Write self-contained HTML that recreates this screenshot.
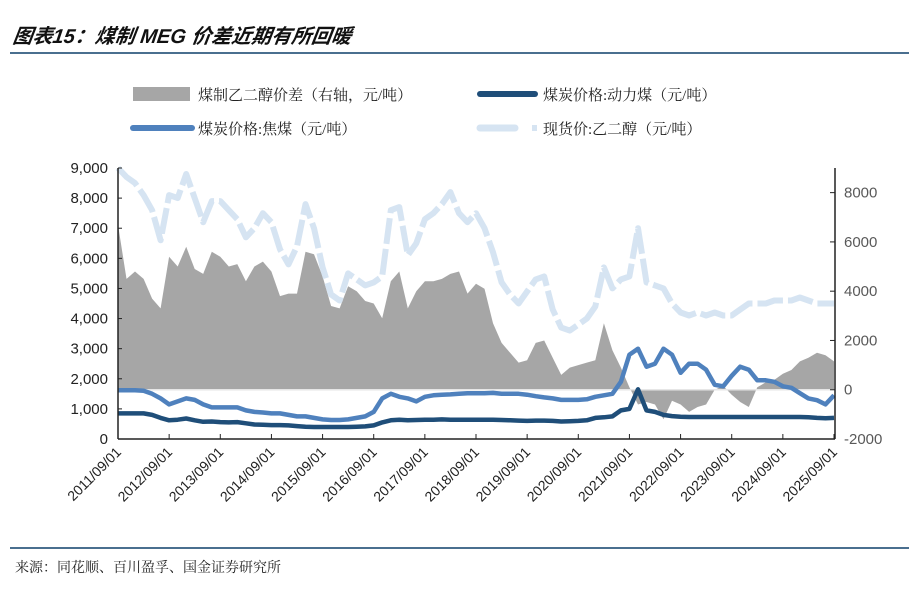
<!DOCTYPE html>
<html><head><meta charset="utf-8">
<style>
html,body{margin:0;padding:0;background:#fff;}
body{width:909px;height:589px;overflow:hidden;font-family:"Liberation Sans","Noto Sans CJK SC",sans-serif;}
</style></head>
<body>
<svg id="chart" width="909" height="589" viewBox="0 0 909 589" xmlns="http://www.w3.org/2000/svg">
<text x="12" y="43" font-family="'Liberation Sans','Noto Sans CJK SC',sans-serif" font-size="20" font-weight="bold" font-style="italic" fill="#111" transform="skewX(-8) translate(6,0)">图表15：煤制 MEG 价差近期有所回暖</text>
<line x1="10" y1="53" x2="909" y2="53" stroke="#4a6f8f" stroke-width="2"/>
<g font-family="'Liberation Serif','Noto Serif CJK SC',serif" font-size="15" fill="#222">
<g><rect x="133" y="87" width="57" height="14" fill="#a6a6a6"/><text x="198" y="100">煤制乙二醇价差（右轴，元/吨）</text></g>
<g><line x1="480" y1="94" x2="535" y2="94" stroke="#1f4e79" stroke-width="6" stroke-linecap="round"/><text x="543" y="100">煤炭价格:动力煤（元/吨）</text></g>
<g><line x1="133" y1="128" x2="192" y2="128" stroke="#4f81bd" stroke-width="6" stroke-linecap="round"/><text x="198" y="134">煤炭价格:焦煤（元/吨）</text></g>
<g><line x1="480" y1="128" x2="515" y2="128" stroke="#d6e4f2" stroke-width="7" stroke-linecap="round"/><rect x="532" y="125" width="5" height="6" fill="#d6e4f2"/><text x="543" y="134">现货价:乙二醇（元/吨）</text></g>
</g>
<g id="plot"></g>
<line x1="10" y1="548" x2="909" y2="548" stroke="#4a6f8f" stroke-width="2"/>
<text x="15" y="572" font-family="'Liberation Serif','Noto Serif CJK SC',serif" font-size="14" fill="#222">来源：同花顺、百川盈孚、国金证券研究所</text>
</svg>
<script>
// bi-monthly samples from 2011/09 to 2025/09
const spread = [6700,4500,4800,4500,3700,3300,5400,5000,5800,4900,4700,5600,5400,5000,5100,4400,5000,5200,4800,3800,3900,3900,5600,5500,4600,3400,3300,4200,4000,3600,3500,2900,4400,4800,3300,4000,4400,4400,4500,4700,4800,3900,4300,4100,2700,1900,1500,1100,1200,1900,2000,1300,600,900,1000,1100,1200,2700,1600,900,100,-600,-500,-600,-1200,-450,-600,-900,-700,-600,0,150,-200,-500,-700,100,300,400,650,800,1150,1300,1500,1400,1150];
const megSpot = [9000,8700,8500,8100,7600,6600,8100,8000,8800,8000,7200,7900,7900,7600,7300,6700,7000,7500,7200,6300,5800,6400,7800,7000,5700,4800,4600,5500,5300,5100,5200,5400,7600,7700,6100,6500,7300,7500,7800,8200,7500,7200,7500,7000,6200,5200,4800,4500,4900,5300,5400,4300,3700,3600,3800,4000,4400,5700,5000,5300,5400,7000,5200,5100,5000,4500,4200,4100,4200,4100,4200,4100,4100,4300,4500,4500,4500,4600,4600,4600,4700,4600,4500,4500,4500];
const cokingCoal = [1620,1620,1620,1600,1500,1350,1150,1250,1350,1300,1150,1050,1050,1050,1050,950,900,880,850,850,800,750,750,700,650,630,630,650,700,750,900,1350,1500,1400,1350,1250,1400,1450,1470,1480,1500,1520,1520,1520,1530,1500,1500,1500,1470,1420,1380,1350,1300,1300,1300,1320,1400,1450,1500,1900,2800,3000,2400,2500,3000,2800,2200,2500,2500,2300,1800,1750,2100,2400,2300,1950,1950,1900,1750,1700,1520,1350,1290,1150,1450];
const thermalCoal = [850,850,850,850,800,700,620,640,680,620,570,580,560,550,560,520,480,470,460,460,450,430,410,400,400,400,400,400,410,420,450,550,620,640,620,630,640,640,650,640,640,640,640,640,640,630,620,610,600,610,610,600,580,590,600,620,700,720,750,950,1000,1650,950,900,800,760,740,730,730,730,730,730,730,730,730,730,730,730,730,730,730,720,700,690,700];
const xLabels = ["2011/09/01","2012/09/01","2013/09/01","2014/09/01","2015/09/01","2016/09/01","2017/09/01","2018/09/01","2019/09/01","2020/09/01","2021/09/01","2022/09/01","2023/09/01","2024/09/01","2025/09/01"];
const leftTicks = [0,1000,2000,3000,4000,5000,6000,7000,8000,9000];
const rightTicks = [-2000,0,2000,4000,6000,8000];

const NS="http://www.w3.org/2000/svg";
const plot=document.getElementById('plot');
const X0=118,X1=834,YT=168,YB=439;
const n=spread.length;
function xi(i){return X0+(X1-X0)*i/(n-1);}
function xt(j){return X0+(X1-X0)*j/(xLabels.length-1);}
function yl(v){return YB-(YB-YT)*v/9000;}
function yr(v){return YB-(YB-YT)*(v+2000)/11000;}
function mk(tag,attrs){const e=document.createElementNS(NS,tag);for(const k in attrs)e.setAttribute(k,attrs[k]);plot.appendChild(e);return e;}

// spread area
let d='M'+xi(0)+','+yr(0);
spread.forEach((v,i)=>{d+=' L'+xi(i).toFixed(1)+','+yr(v).toFixed(1);});
d+=' L'+xi(n-1)+','+yr(0)+' Z';
const area=mk('path',{d:d,fill:'#a6a6a6',stroke:'none'});


const zl=mk('line',{x1:X0,y1:yr(0),x2:X1,y2:yr(0),stroke:'#e6e6e6','stroke-width':1.5});



function line(arr,yf,attrs){let p='';arr.forEach((v,i)=>{p+=(i?' L':'M')+xi(i).toFixed(1)+','+yf(v).toFixed(1);});attrs.d=p;attrs.fill='none';attrs['stroke-linejoin']='round';return mk('path',attrs);}
const spot=line(megSpot,yl,{stroke:'#d6e4f2','stroke-width':6,'stroke-dasharray':'26 5'});


const coke=line(cokingCoal,yl,{stroke:'#4f81bd','stroke-width':4.5});


const therm=line(thermalCoal,yl,{stroke:'#1f4e79','stroke-width':4.5});



// axes
const la=mk('line',{x1:X0,y1:YT,x2:X0,y2:YB,stroke:'#222','stroke-width':1.5});


const ra=mk('line',{x1:X1+1,y1:YT,x2:X1+1,y2:YB,stroke:'#222','stroke-width':1.5});


const xa=mk('line',{x1:X0,y1:YB,x2:X1+1,y2:YB,stroke:'#222','stroke-width':1.5});



leftTicks.forEach(v=>{
  const y=yl(v);
  mk('line',{x1:X0,y1:y,x2:X0+4,y2:y,stroke:'#222','stroke-width':1});
  const t=mk('text',{x:X0-10,y:y+5,'text-anchor':'end','font-size':15,fill:'#222'});
  t.textContent=v.toLocaleString('en-US');
  
  
});
rightTicks.forEach(v=>{
  const y=yr(v);
  mk('line',{x1:X1-4,y1:y,x2:X1+1,y2:y,stroke:'#222','stroke-width':1});
  const t=mk('text',{x:X1+10,y:y+5,'text-anchor':'start','font-size':15,fill:'#595959'});
  t.textContent=String(v);
  
  
});
xLabels.forEach((s,j)=>{
  const x=xt(j);
  mk('line',{x1:x,y1:YB,x2:x,y2:YB-5,stroke:'#222','stroke-width':1});
  const t=mk('text',{x:x+4,y:YB+14,'text-anchor':'end','font-size':14,fill:'#222',transform:'rotate(-45 '+(x+4)+' '+(YB+14)+')'});
  t.textContent=s;
  
  
});
</script>
</body></html>
